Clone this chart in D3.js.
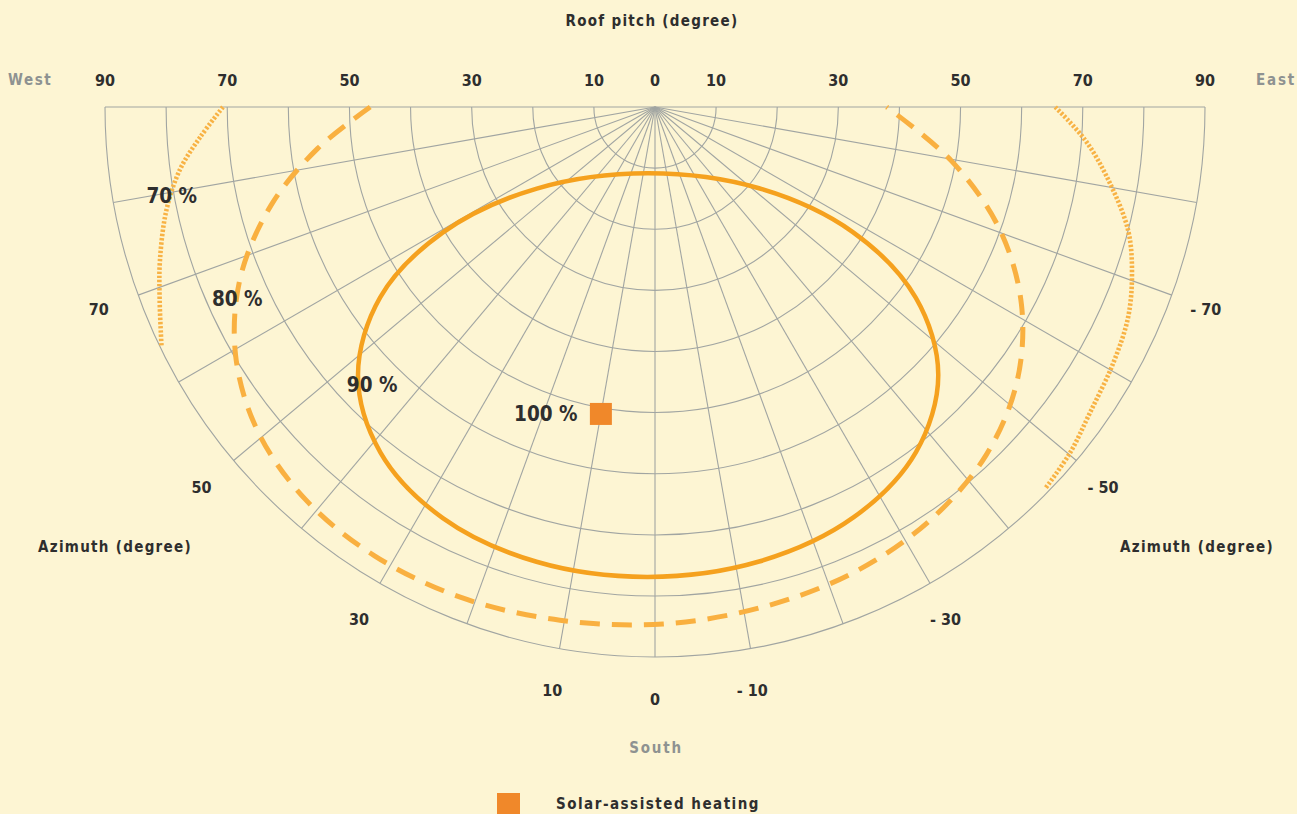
<!DOCTYPE html>
<html>
<head>
<meta charset="utf-8">
<script src="https://cdn.jsdelivr.net/npm/d3@7"></script>
<style>
  html, body { margin: 0; padding: 0; background: #FDF5D3; }
  svg { display: block; }
  text { font-family: "DejaVu Sans Condensed", "Liberation Sans Narrow", sans-serif; font-weight: bold; }
</style>
</head>
<body>
<svg id="chart" width="1297" height="814"></svg>
<script>
// ---------- DATA ----------
const pitchCircles = [10, 20, 30, 40, 50, 60, 70, 80, 90];
const azimuthRays = [-80, -70, -60, -50, -40, -30, -20, -10, 0, 10, 20, 30, 40, 50, 60, 70, 80];
const pitchTickLabels = [90, 70, 50, 30, 10];
const azimuthTickLabels = [70, 50, 30, 10, 0, -10, -30, -50, -70];

// contours as [azimuth (deg, west positive), roof pitch (deg)]
const contour90 = [
  [-46.6, 63.8], [-37.1, 70.8], [-25.8, 74.6], [-12.9, 76.3], [0.9, 76.9], [14.6, 76.9],
  [27.3, 75.7], [38.5, 72.2], [47.9, 65.5], [55.3, 54.7], [59.4, 40.3], [55.4, 23.5],
  [6.1, 10.9], [-52.0, 21.6], [-57.7, 38.3], [-53.8, 52.9]
];
const contour80 = [
  [90, 46.6], [83.0, 55.6], [75.6, 64.9], [67.5, 73.5], [59.3, 79.8], [50.8, 83.9],
  [41.7, 86.0], [32.0, 86.6], [21.5, 86.3], [10.5, 85.4], [-0.9, 84.6], [-12.2, 83.7],
  [-23.3, 82.8], [-33.8, 81.2], [-43.6, 78.6], [-52.9, 74.3], [-61.7, 68.1], [-70.5, 59.8],
  [-79.7, 49.3], [-90, 37.9]
];
const contour70West = [
  [90, 70.7], [86.2, 74.6], [82.5, 78.4], [78.1, 81.7], [72.8, 84.8], [68.7, 87.0], [64.2, 89.7]
];
const contour70East = [
  [-90, 65.5], [-85.6, 70.6], [-80.9, 75.1], [-75.4, 80.0], [-70.9, 82.6], [-66.1, 84.7],
  [-60.8, 85.9], [-54.9, 87.0], [-50.2, 88.4], [-45.7, 89.3]
];
const optimum = [10, 51]; // 100 %
const contourLabels = [
  { az: 79.6, pitch: 80.4, text: "70 %" },
  { az: 65.4, pitch: 75.2, text: "80 %" },
  { az: 45.5, pitch: 64.9, text: "90 %" },
  { az: 19.6, pitch: 53.3, text: "100 %" }
];
const legendLabel = "Solar-assisted heating";

// ---------- LAYOUT ----------
const W = 1297, H = 814;
const cx = 655, cy = 107, R = 550;
const ink = "#2E2E2E", grayInk = "#8E9291", gridColor = "#A1A5A2";

const svg = d3.select("#chart");
svg.append("rect").attr("width", W).attr("height", H).attr("fill", "#FDF5D3");

const rScale = d3.scaleLinear().domain([0, 90]).range([0, R]);
// azimuth +90 = West (left), 0 = South (down), -90 = East (right)
const aScale = d3.scaleLinear().domain([-90, 90]).range([Math.PI / 2, 3 * Math.PI / 2]);
const pt = (az, p) => d3.pointRadial(aScale(az), rScale(p));

const g = svg.append("g").attr("transform", `translate(${cx},${cy})`);

// grid circles (lower half)
const grid = g.append("g").attr("fill", "none").attr("stroke", gridColor).attr("stroke-width", 1.1);
pitchCircles.forEach(p => {
  const r = rScale(p);
  const path = d3.path();
  path.moveTo(r, 0);
  path.arc(0, 0, r, 0, Math.PI);
  grid.append("path").attr("d", path.toString());
});
// rays
azimuthRays.forEach(az => {
  const [x, y] = pt(az, 90);
  grid.append("line").attr("x1", 0).attr("y1", 0).attr("x2", x).attr("y2", y);
});
// top line (azimuth ±90)
{
  const [x1, y1] = pt(90, 90), [x2, y2] = pt(-90, 90);
  grid.append("line").attr("x1", x1).attr("y1", y1).attr("x2", x2).attr("y2", y2);
}

// contours
const radial = d3.lineRadial().angle(d => aScale(d[0])).radius(d => rScale(d[1]));
[contour70West, contour70East].forEach(c => {
  g.append("path").datum(c)
    .attr("d", radial.curve(d3.curveCatmullRom.alpha(0.5)))
    .attr("fill", "none").attr("stroke", "#F8B244").attr("stroke-width", 4.6).attr("stroke-dasharray", "2.4,1.8");
});
g.append("path").datum(contour80)
  .attr("d", radial.curve(d3.curveCatmullRom.alpha(0.5)))
  .attr("fill", "none").attr("stroke", "#F9B040").attr("stroke-width", 5).attr("stroke-dasharray", "20,12");
g.append("path").datum(contour90)
  .attr("d", radial.curve(d3.curveCatmullRomClosed.alpha(0.5)))
  .attr("fill", "none").attr("stroke", "#F5A11E").attr("stroke-width", 4.5);

// optimum marker
{
  const [x, y] = pt(optimum[0], optimum[1]);
  g.append("rect").attr("x", x - 11).attr("y", y - 11).attr("width", 22).attr("height", 22).attr("fill", "#F0882A");
}

// contour labels
contourLabels.forEach(d => {
  const [x, y] = pt(d.az, d.pitch);
  g.append("text").attr("x", x).attr("y", y).attr("dy", "0.36em")
    .attr("text-anchor", "middle").attr("font-size", 20.5).attr("fill", ink).text(d.text);
});

// top pitch tick labels
const topY = 80 - cy;
pitchTickLabels.forEach(p => {
  [-1, 1].forEach(s => {
    g.append("text").attr("x", s * rScale(p)).attr("y", topY).attr("dy", "0.36em")
      .attr("text-anchor", "middle").attr("font-size", 16).attr("fill", ink).text(p);
  });
});
g.append("text").attr("x", rScale(0)).attr("y", topY).attr("dy", "0.36em")
  .attr("text-anchor", "middle").attr("font-size", 16).attr("fill", ink).text(0);

// azimuth tick labels (digits centred on the ray, minus sign hanging to the left)
azimuthTickLabels.forEach(az => {
  const [x, y] = d3.pointRadial(aScale(az), R + 42);
  const t = g.append("text").attr("x", x).attr("y", y).attr("dy", "0.36em")
    .attr("text-anchor", "middle").attr("font-size", 16).attr("fill", ink)
    .text(az < 0 ? "- " + Math.abs(az) : az);
  if (az < 0) {
    const prefix = t.node().getSubStringLength(0, 2);
    t.attr("x", x - prefix / 2);
  }
});

// titles
const title = (x, y, txt, color, anchor, ls) =>
  svg.append("text").attr("x", x).attr("y", y).attr("dy", "0.36em").attr("text-anchor", anchor || "middle")
    .attr("font-size", 15).attr("letter-spacing", ls || 1.3).attr("fill", color).text(txt);

title(652, 21, "Roof pitch (degree)", ink);
title(8, 80, "West", grayInk, "start", 1.6);
title(1296, 80, "East", grayInk, "end", 1.8);
title(115, 547, "Azimuth (degree)", ink);
title(1197, 547, "Azimuth (degree)", ink);
title(656, 748, "South", grayInk, "middle", 1.8);

// legend
svg.append("rect").attr("x", 497).attr("y", 793).attr("width", 23).attr("height", 23).attr("fill", "#F0882A");
title(556, 804, legendLabel, ink, "start", 1.5);
</script>
</body>
</html>
